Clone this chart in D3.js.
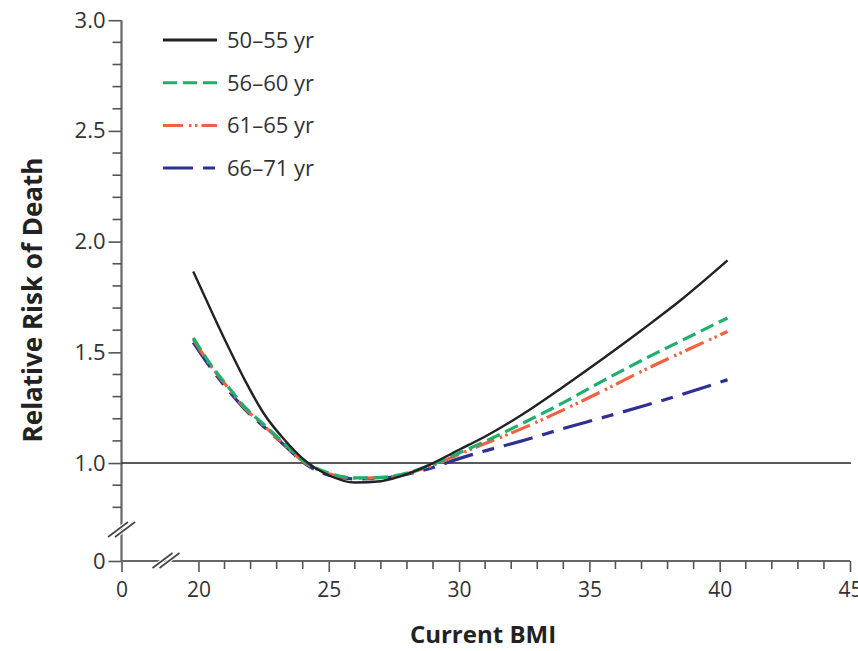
<!DOCTYPE html>
<html>
<head>
<meta charset="utf-8">
<script src="https://cdn.jsdelivr.net/npm/d3@7"></script>
<style>
  body { margin: 0; background: #fff; }
  text { font-family: "Open Sans", "Noto Sans", sans-serif; }
</style>
</head>
<body>
<div class="container"></div>
<script>
// BMI values the curves were read at
var bmi = [19.8, 20.5, 21.1, 21.8, 22.5, 23.3, 24, 25, 26, 27, 28, 29, 30, 31, 32.5, 34, 35.5, 37, 38.5, 40.3];

var age50 = [1.865, 1.685, 1.535, 1.37, 1.225, 1.105, 1.02, 0.945, 0.912, 0.918, 0.95, 1.0, 1.06, 1.12, 1.225, 1.345, 1.47, 1.60, 1.735, 1.915];
var age56 = [1.565, 1.44, 1.35, 1.25, 1.175, 1.088, 1.012, 0.955, 0.933, 0.935, 0.955, 0.995, 1.045, 1.098, 1.183, 1.273, 1.37, 1.463, 1.551, 1.655];
var age61 = [1.56, 1.435, 1.345, 1.245, 1.17, 1.083, 1.008, 0.952, 0.932, 0.934, 0.953, 0.99, 1.04, 1.088, 1.16, 1.24, 1.325, 1.414, 1.497, 1.594];
var age66 = [1.545, 1.425, 1.335, 1.24, 1.165, 1.08, 1.005, 0.945, 0.928, 0.93, 0.95, 0.98, 1.02, 1.055, 1.103, 1.156, 1.205, 1.255, 1.308, 1.376];

var seriesNames = ["50\u201355 yr", "56\u201360 yr", "61\u201365 yr", "66\u201371 yr"];

var xMajorTicks = [0, 20, 25, 30, 35, 40, 45];
var yMajorTicks = [0, 1.0, 1.5, 2.0, 2.5, 3.0];

var svgWidth = 858;
var svgHeight = 651;

var svg = d3.select(".container")
    .append("svg")
    .attr("width", svgWidth)
    .attr("height", svgHeight);

// broken axes: 0 then jump to 19 (x) and to 0.75 (y)
var xScale = d3.scaleLinear()
    .domain([0, 19, 45])
    .range([121.5, 172.4, 850]);

var yScale = d3.scaleLinear()
    .domain([0, 0.75, 3.0])
    .range([561, 518.4, 20.2]);

var axisColor = "#555";

// y axis
var yAxis = d3.axisLeft(yScale)
    .tickValues(yMajorTicks)
    .tickSize(13)
    .tickPadding(3)
    .tickFormat(d => d === 0 ? "0" : d3.format(".1f")(d));

var yAxisG = svg.append("g")
    .attr("transform", "translate(121.5,0)")
    .call(yAxis);

var yMinor = d3.range(8, 31).map(d => d / 10).filter(d => yMajorTicks.indexOf(d) < 0);
svg.append("g").selectAll("line")
    .data(yMinor)
    .enter()
    .append("line")
    .attr("x1", 112.5)
    .attr("x2", 121.5)
    .attr("y1", d => yScale(d))
    .attr("y2", d => yScale(d))
    .attr("stroke", axisColor)
    .attr("stroke-width", 1.6);

// x axis
var xAxis = d3.axisBottom(xScale)
    .tickValues(xMajorTicks)
    .tickSize(11)
    .tickPadding(10);

var xAxisG = svg.append("g")
    .attr("transform", "translate(0,561)")
    .call(xAxis);

var xMinor = d3.range(21, 45).filter(d => xMajorTicks.indexOf(d) < 0);
svg.append("g").selectAll("line")
    .data(xMinor)
    .enter()
    .append("line")
    .attr("x1", d => xScale(d))
    .attr("x2", d => xScale(d))
    .attr("y1", 561)
    .attr("y2", 569)
    .attr("stroke", axisColor)
    .attr("stroke-width", 1.6);

[yAxisG, xAxisG].forEach(g => {
    g.select(".domain").remove();
    g.selectAll(".tick line").attr("stroke", axisColor).attr("stroke-width", 1.6);
    g.selectAll(".tick text")
        .attr("fill", "#333")
        .style("font-family", "'Open Sans', sans-serif");
});
yAxisG.selectAll(".tick text").attr("font-size", "22px");
xAxisG.selectAll(".tick text").attr("font-size", "21px");

yAxisG.append("line")
    .attr("x1", 0).attr("x2", 0)
    .attr("y1", yScale(3.0)).attr("y2", yScale(0))
    .attr("stroke", "#666").attr("stroke-width", 2.2);
xAxisG.append("line")
    .attr("x1", xScale(0)).attr("x2", xScale(45))
    .attr("y1", 0).attr("y2", 0)
    .attr("stroke", "#666").attr("stroke-width", 2.2);

// break marks
function breakMarks(cx, cy) {
    var g = svg.append("g").attr("transform", `translate(${cx},${cy})`);
    [-3.5, 3.5].forEach(off => {
        g.append("line")
            .attr("x1", -10 + off).attr("y1", 7)
            .attr("x2", 10 + off).attr("y2", -8)
            .attr("stroke", "#fff").attr("stroke-width", 4);
    });
    [-3.5, 3.5].forEach(off => {
        g.append("line")
            .attr("x1", -10 + off).attr("y1", 7)
            .attr("x2", 10 + off).attr("y2", -8)
            .attr("stroke", "#444").attr("stroke-width", 1.6);
    });
}
breakMarks(xScale(0), 530);
breakMarks(166, yScale(0));

// reference line at 1.0
svg.append("line")
    .attr("x1", xScale(0))
    .attr("x2", 851)
    .attr("y1", yScale(1.0))
    .attr("y2", yScale(1.0))
    .attr("stroke", "#222")
    .attr("stroke-width", 1.6);

// curves
var series = [
    { name: seriesNames[0], values: age50, color: "#222222", dash: null, width: 2.4 },
    { name: seriesNames[1], values: age56, color: "#1fae6b", dash: "14,6", width: 3.2 },
    { name: seriesNames[2], values: age61, color: "#f26140", dash: "20,6,2.5,3.5,2.5,4", width: 3.2 },
    { name: seriesNames[3], values: age66, color: "#2e3192", dash: "30,10,12,10", width: 3.2 }
];

var line = d3.line()
    .x(d => xScale(d[0]))
    .y(d => yScale(d[1]))
    .curve(d3.curveMonotoneX);

series.slice().reverse().forEach(s => {
    svg.append("path")
        .datum(bmi.map((b, i) => [b, s.values[i]]))
        .attr("d", line)
        .attr("fill", "none")
        .attr("stroke", s.color)
        .attr("stroke-width", s.width)
        .attr("stroke-dasharray", s.dash);
});

// legend
var legend = svg.append("g").attr("transform", "translate(163,40)");
series.forEach((s, i) => {
    var row = legend.append("g").attr("transform", `translate(0,${i * 42.7})`);
    row.append("line")
        .attr("x1", 0).attr("x2", 54)
        .attr("y1", 0).attr("y2", 0)
        .attr("stroke", s.color)
        .attr("stroke-width", 3)
        .attr("stroke-dasharray", s.dash);
    row.append("text")
        .attr("x", 64)
        .attr("y", 8)
        .attr("font-size", "22px")
        .attr("fill", "#333")
        .text(s.name);
});

// axis titles
svg.append("text")
    .attr("x", 483)
    .attr("y", 643)
    .attr("text-anchor", "middle")
    .attr("font-size", "24px")
    .attr("font-weight", "bold")
    .attr("fill", "#222")
    .text("Current BMI");

svg.append("text")
    .attr("transform", "translate(42,300) rotate(-90)")
    .attr("text-anchor", "middle")
    .attr("font-size", "26px")
    .attr("font-weight", "bold")
    .attr("fill", "#222")
    .text("Relative Risk of Death");
</script>
</body>
</html>
